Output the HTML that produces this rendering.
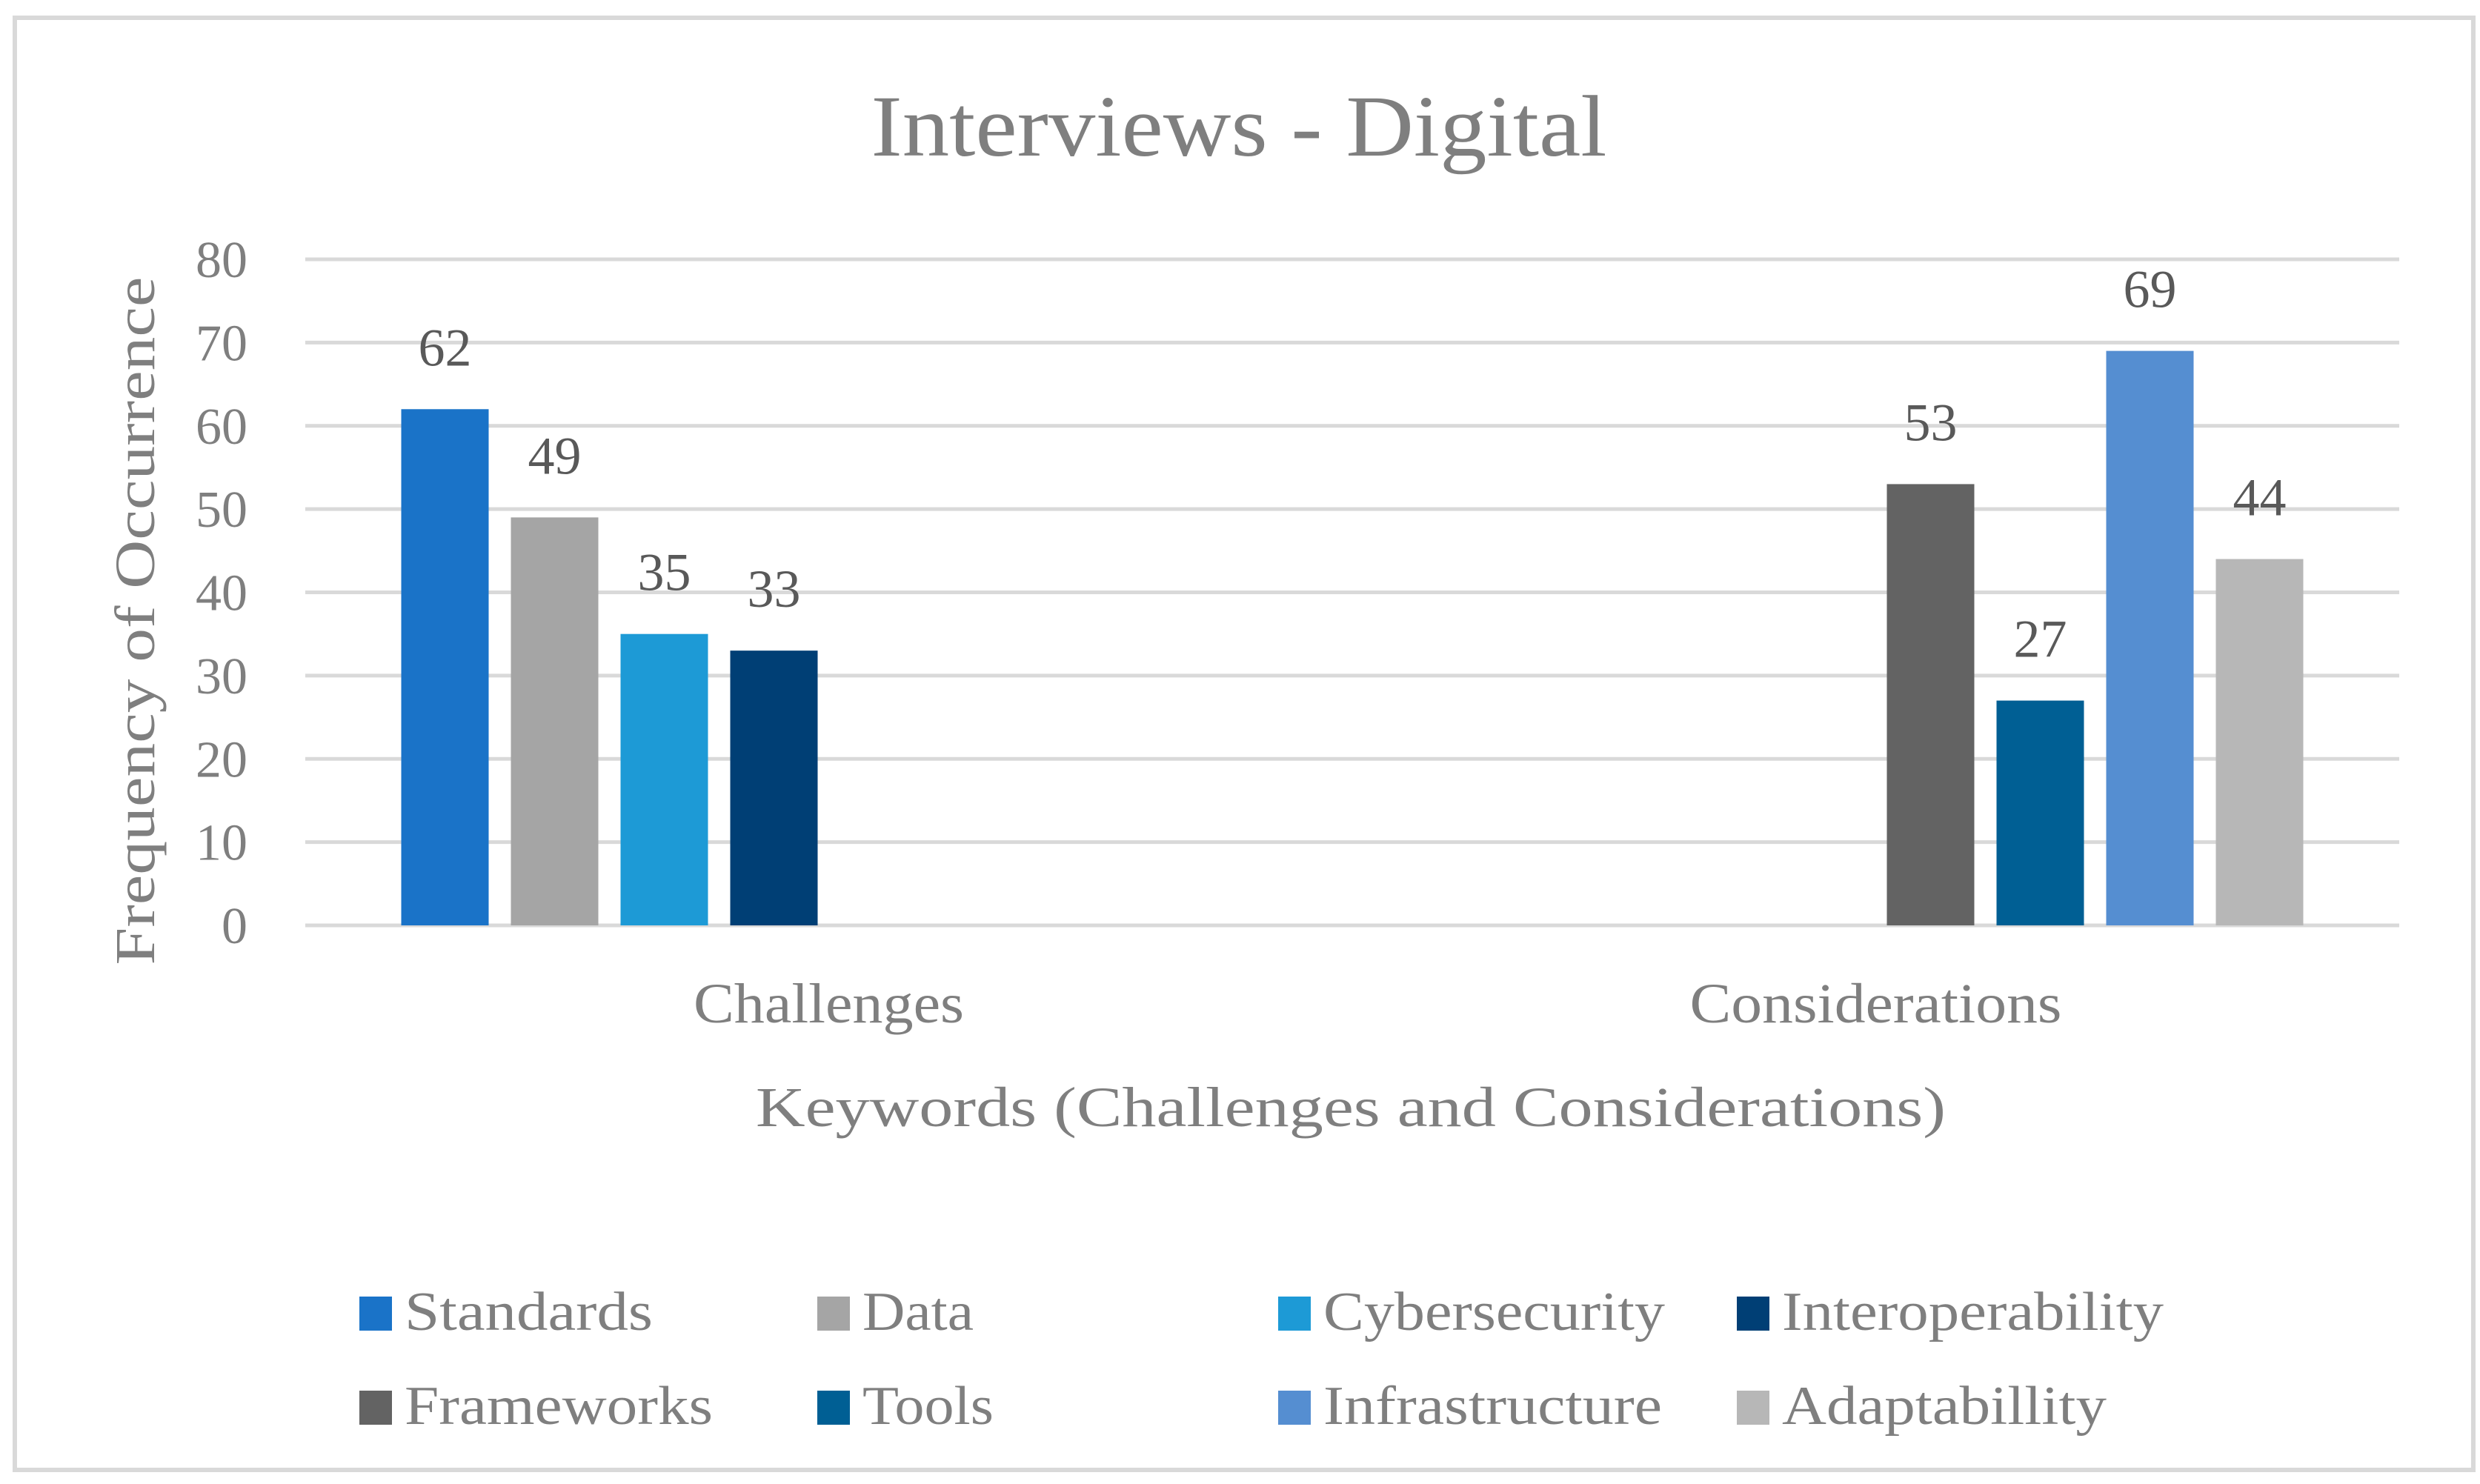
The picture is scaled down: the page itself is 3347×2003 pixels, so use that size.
<!DOCTYPE html>
<html><head><meta charset="utf-8"><style>
html,body{margin:0;padding:0;background:#fff}
svg{display:block}
text{font-family:"Liberation Serif",serif}
</style></head><body>
<svg id="chart" width="3347" height="2003" viewBox="0 0 3347 2003" xmlns="http://www.w3.org/2000/svg">
<rect x="20" y="24" width="3318" height="1960" fill="#fff" stroke="#d9d9d9" stroke-width="6"/>
<text x="1672" y="210" text-anchor="middle" font-size="118" fill="#7f7f7f" textLength="993" lengthAdjust="spacingAndGlyphs">Interviews - Digital</text>
<g id="grid"></g><g id="bars"></g><g id="labels"></g>
<text transform="translate(208,838) rotate(-90)" text-anchor="middle" font-size="76" fill="#7f7f7f" textLength="929" lengthAdjust="spacingAndGlyphs">Frequency of Occurrence</text>
<text x="1823" y="1520" text-anchor="middle" font-size="76" fill="#7f7f7f" textLength="1606" lengthAdjust="spacingAndGlyphs">Keywords (Challenges and Considerations)</text>
<g id="legend"></g>
</svg>
<script>
const categories = ["Challenges", "Considerations"];
const seriesNames = ["Standards","Data","Cybersecurity","Interoperability","Frameworks","Tools","Infrastructure","Adaptabillity"];
const challengesValues = [62, 49, 35, 33, null, null, null, null];
const considerationsValues = [null, null, null, null, 53, 27, 69, 44];
const yTicks = [0, 10, 20, 30, 40, 50, 60, 70, 80];
const seriesColors = ["#1a73c8","#a5a5a5","#1d9ad6","#003f75","#636363","#005f94","#558ed1","#b7b7b7"];
const legendTextWidths = [335,150,461,515,416,177,457,438];
const categoryTextWidths = [365, 502];

const NS = "http://www.w3.org/2000/svg";
const plotLeft = 412, plotRight = 3238, yTop = 350, yBottom = 1249, yMax = 80;
const catW = (plotRight - plotLeft) / categories.length;
const slot = 148, barW = 118;
const gapHalf = (catW - seriesNames.length * slot) / 2;
function y(v){ return yBottom - (v / yMax) * (yBottom - yTop); }
function xBar(ci, si){ return plotLeft + ci * catW + gapHalf + si * slot + (slot - barW) / 2; }
function mk(tag, attrs, parent){ const e = document.createElementNS(NS, tag); for (const k in attrs) e.setAttribute(k, attrs[k]); parent.appendChild(e); return e; }

const grid = document.getElementById("grid");
yTicks.forEach(t => {
  const l = mk("line", {x1: plotLeft, x2: plotRight, y1: y(t), y2: y(t), stroke: "#d9d9d9", "stroke-width": 5}, grid);
  
  
  const tx = mk("text", {x: 334, y: y(t) + 24, "text-anchor": "end", "font-size": 70, fill: "#7f7f7f"}, grid);
  
  
  tx.textContent = t;
});

const bars = document.getElementById("bars");
const labels = document.getElementById("labels");
const valueSets = [challengesValues, considerationsValues];
categories.forEach((c, ci) => {
  valueSets[ci].forEach((v, si) => {
    if (v === null || v === undefined) return;
    const x = xBar(ci, si);
    const r = mk("rect", {x: x, y: y(v), width: barW, height: yBottom - y(v), fill: seriesColors[si]}, bars);
    
    
    const lt = mk("text", {x: x + barW / 2, y: y(v) - 59, "text-anchor": "middle", "font-size": 72, fill: "#595959"}, labels);
    
    
    lt.textContent = v;
  });
  const ct = mk("text", {x: plotLeft + ci * catW + catW / 2, y: 1380, "text-anchor": "middle", "font-size": 76, fill: "#7f7f7f", textLength: categoryTextWidths[ci], lengthAdjust: "spacingAndGlyphs"}, labels);
  
  
  ct.textContent = c;
});

const legend = document.getElementById("legend");
const colX = [485, 1103, 1725, 2344];
const rowY = [1750, 1877];
seriesNames.forEach((n, i) => {
  const cx = colX[i % 4], ry = rowY[Math.floor(i / 4)];
  const g = mk("g", {}, legend);
  
  
  const sw = mk("rect", {x: cx, y: ry, width: 44, height: 46, fill: seriesColors[i]}, g);
  
  
  const t = mk("text", {x: cx + 61, y: ry + 45, "font-size": 74, fill: "#7f7f7f", textLength: legendTextWidths[i], lengthAdjust: "spacingAndGlyphs"}, g);
  
  
  t.textContent = n;
});
</script>
</body></html>
